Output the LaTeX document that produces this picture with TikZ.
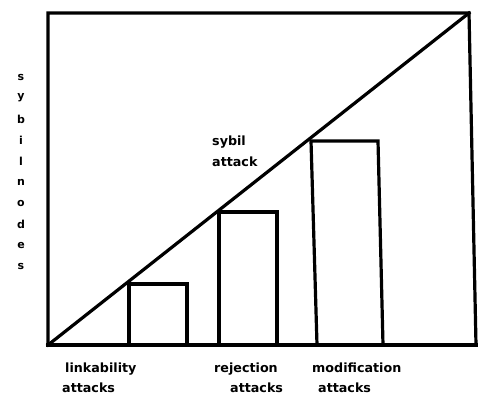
\documentclass[tikz,border=0pt]{standalone}
\usepackage{fontspec}
\setmainfont{DejaVu Sans}
\begin{document}
\begin{tikzpicture}[x=1pt,y=-1pt,
  ln/.style={line width=3.2pt,line join=miter,line cap=rect},
  lbl/.style={font=\bfseries\fontsize{12.7}{12.7}\selectfont,inner sep=0pt,anchor=base west},
  vl/.style={font=\bfseries\fontsize{11}{11}\selectfont,inner sep=0pt}]
\useasboundingbox (0,0) rectangle (478,394);
\fill[white] (0,0) rectangle (478,394);
% frame
\coordinate (tl) at (48,13);
\coordinate (tr) at (469,13);
\coordinate (bl) at (48,345);
\coordinate (br) at (476,345);
\draw[ln] (bl) -- (tl) -- (tr) -- (br);
\draw[ln] (bl) -- (478,345);
% diagonal
\draw[ln] (bl) -- (tr);
% bars
\draw[ln] (129,345) -- (129,284) -- (187,284) -- (187,345);
\draw[ln] (219,345) -- (219,212) -- (277,212) -- (277,345);
\draw[ln] (317,345) -- (311,141) -- (378,141) -- (383,345);
% labels
\node[lbl] (sa1) at (212,145) {sybil};
\node[lbl] (sa2) at (212,166) {attack};
\node[lbl] (la1) at (65,372) {linkability};
\node[lbl] (la2) at (62,392) {attacks};
\node[lbl] (ra1) at (214,372) {rejection};
\node[lbl] (ra2) at (230,392) {attacks};
\node[lbl] (ma1) at (312,372) {modification};
\node[lbl] (ma2) at (318,392) {attacks};
% vertical axis letters
\foreach \c [count=\i from 0] in {s,y,b,i,l,n,o,d,e,s}
  \node[vl] (v\i) at (21,{77+21*\i}) {\c};
\end{tikzpicture}
\end{document}
